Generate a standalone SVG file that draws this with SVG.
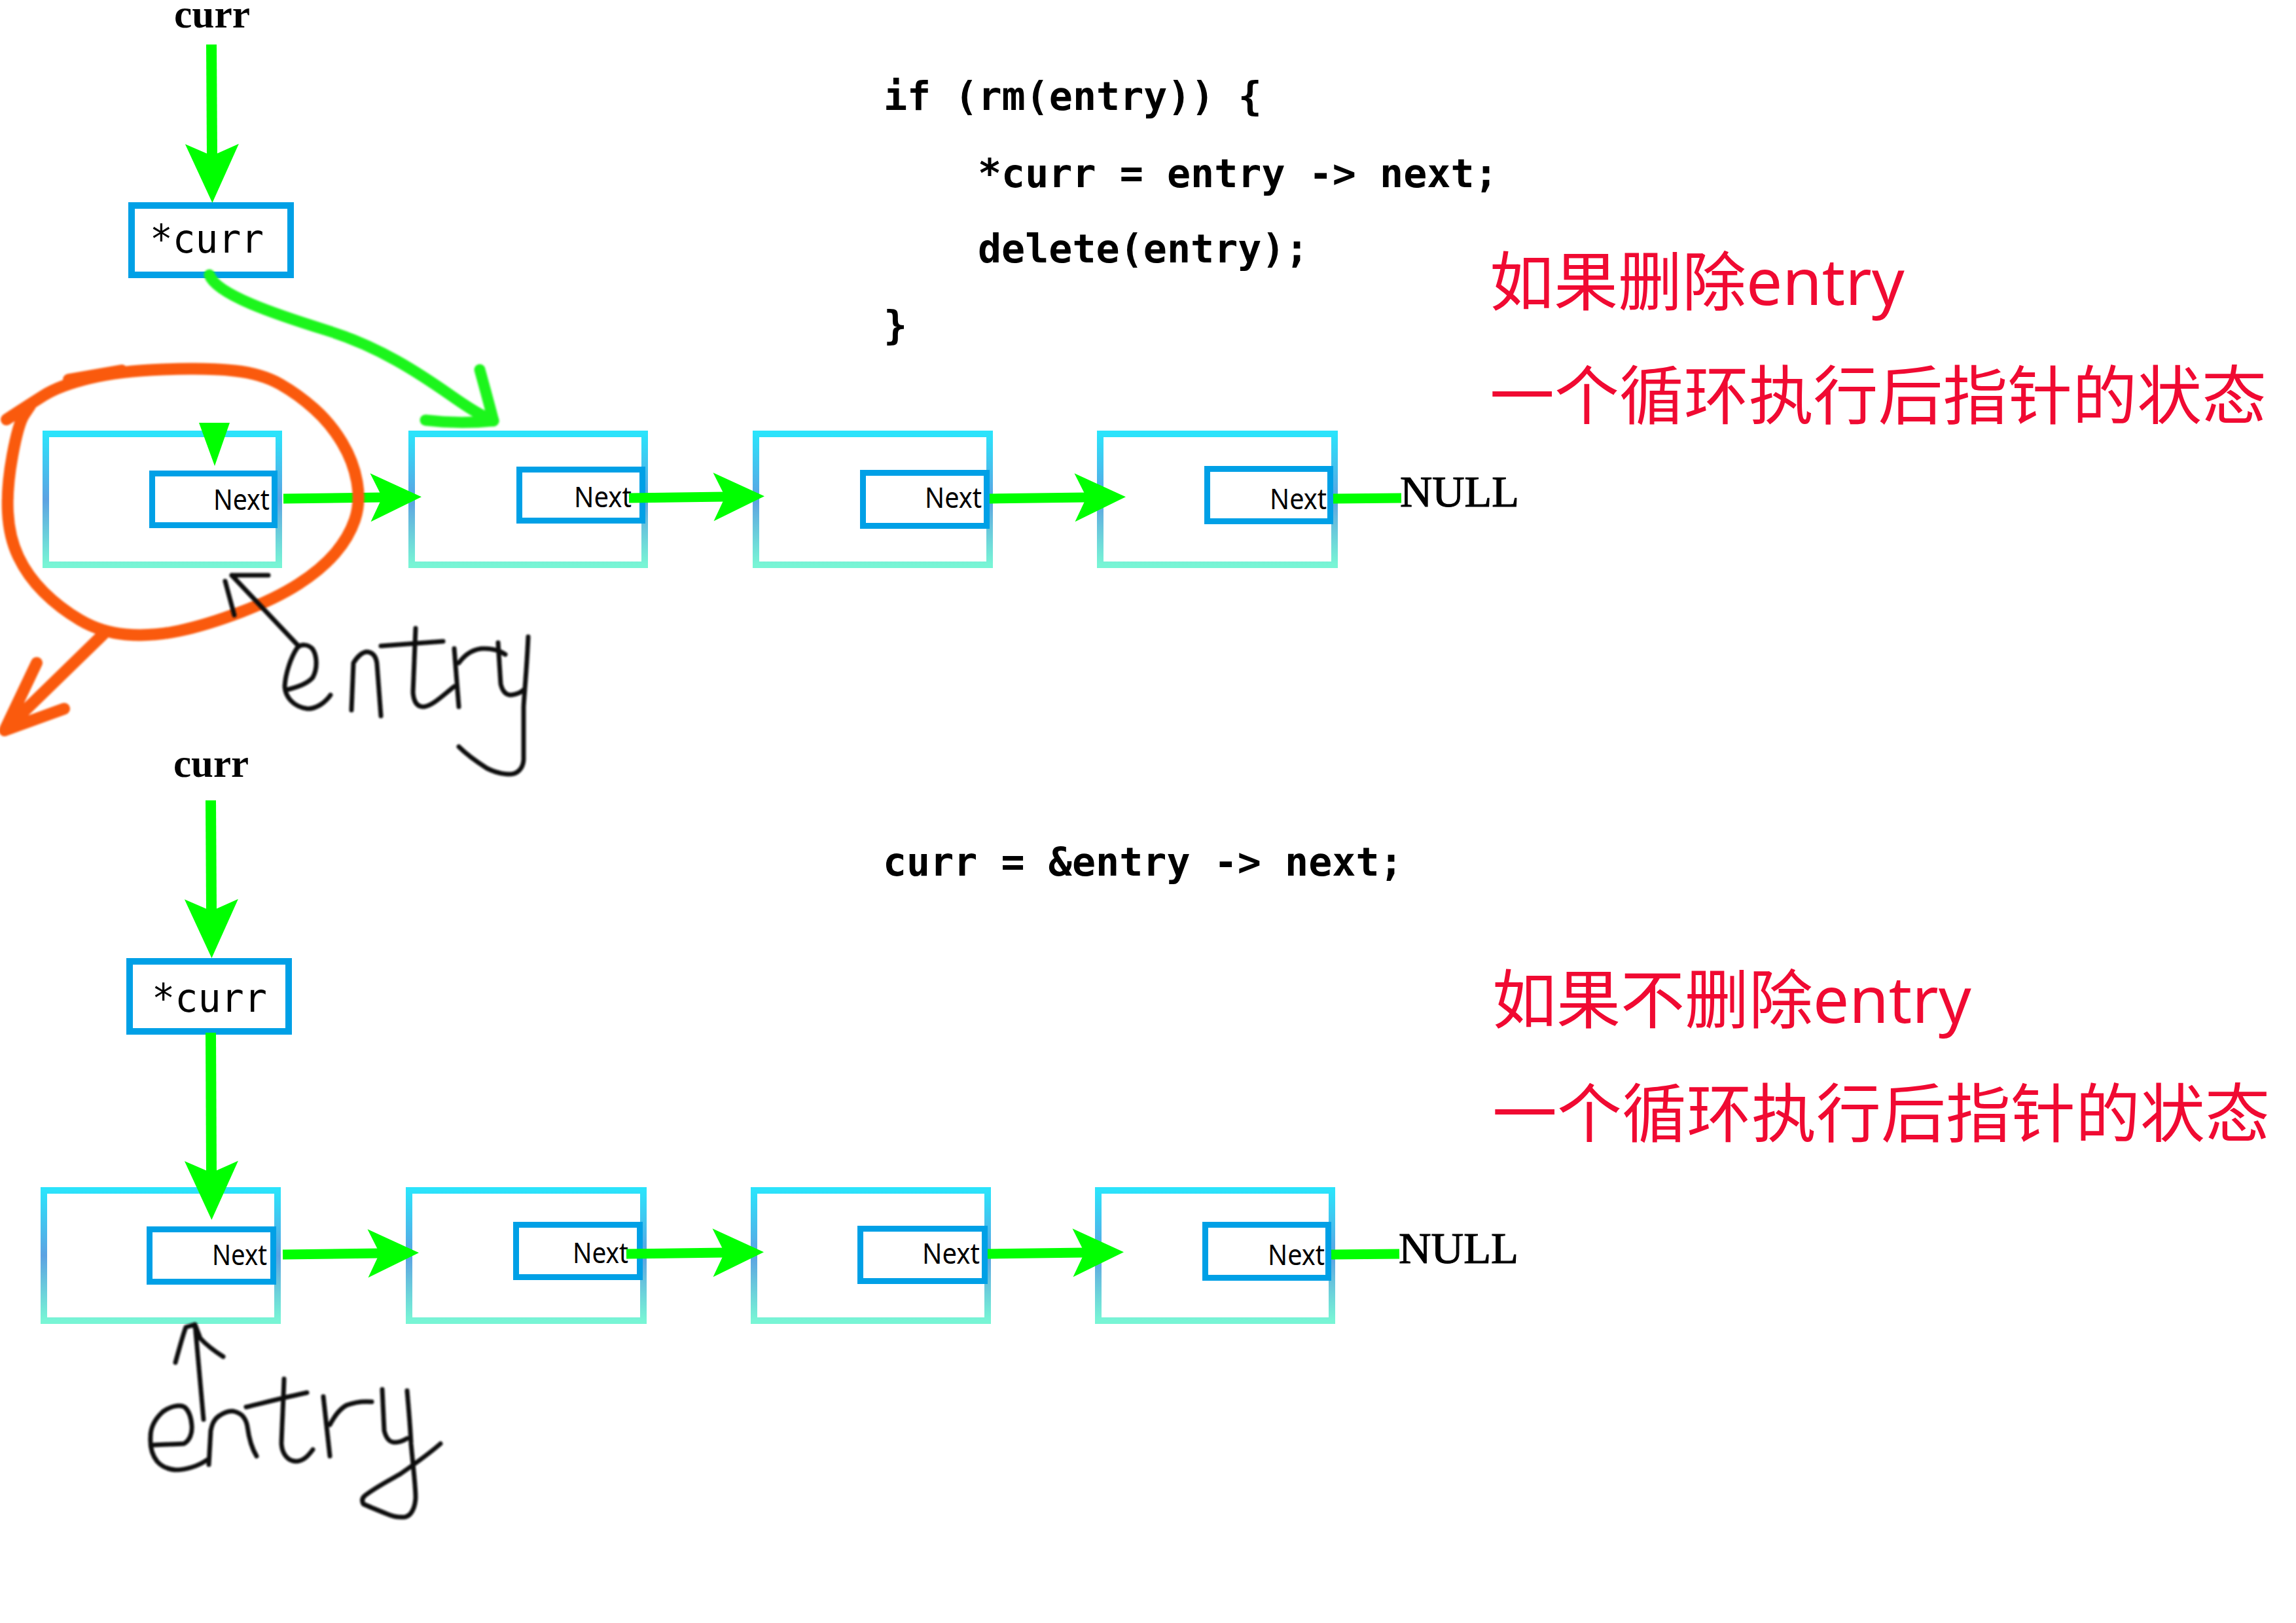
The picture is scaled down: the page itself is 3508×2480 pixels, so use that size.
<svg xmlns="http://www.w3.org/2000/svg" width="3508" height="2480" viewBox="0 0 3508 2480">
<style>
.bg{fill:#ffffff}
.node{fill:#ffffff;stroke:url(#nodeGrad);stroke-width:10}
.ptr{fill:#ffffff;stroke:#00A0E6;stroke-width:9}
.next{font-family:"Noto Sans","Open Sans",sans-serif;font-size:44px;fill:#000}
.code{font-family:"DejaVu Sans Mono","Liberation Mono",monospace;font-size:60px;font-weight:bold;fill:#000;white-space:pre}
.ptrtxt{font-family:"DejaVu Sans Mono","Liberation Mono",monospace;font-size:60px;fill:#000}
.lbl{font-family:"Liberation Serif","Times New Roman",serif;font-size:62px;font-weight:bold;fill:#000}
.null{font-family:"Liberation Serif","Times New Roman",serif;font-size:68px;fill:#000;stroke:#000;stroke-width:1.2}
.red{font-family:"Noto Sans","Noto Sans CJK SC",sans-serif;font-size:98px;fill:#F00A32}
.hlink{stroke:#00FF00;stroke-width:15;fill:none}
.vlink{stroke:#00FF00;stroke-width:16;fill:none}
.hand{stroke:#111;stroke-width:7;fill:none;stroke-linecap:round;stroke-linejoin:round}
.orange{stroke:#FA5A0F;stroke-width:18;fill:none;stroke-linecap:round;stroke-linejoin:round}
.gcurve{stroke:#1EF51E;stroke-width:17;fill:none;stroke-linecap:round;stroke-linejoin:round}
</style>
<defs>
<linearGradient id="nodeGrad" x1="0" y1="0" x2="0" y2="1">
<stop offset="0" stop-color="#2BE3FB"/>
<stop offset="0.5" stop-color="#5CA2E2"/>
<stop offset="1" stop-color="#78F5D5"/>
</linearGradient>
<marker id="ah" markerUnits="userSpaceOnUse" markerWidth="100" markerHeight="100" refX="0" refY="0" orient="auto" overflow="visible">
<path d="M60,0 L-18,-37 L0,0 L-18,37 Z" fill="#00FF00"/>
</marker>
<marker id="ahv" markerUnits="userSpaceOnUse" markerWidth="100" markerHeight="100" refX="0" refY="0" orient="auto" overflow="visible">
<path d="M72,0 L-18,-41 L0,0 L-18,41 Z" fill="#00FF00"/>
</marker>
<filter id="soft" x="-5%" y="-5%" width="110%" height="110%">
<feGaussianBlur stdDeviation="1.8"/>
</filter>
</defs>
<rect class="bg" x="0" y="0" width="3508" height="2480"/>

<!-- labels -->
<g id="label-curr-top"><text class="lbl" x="266" y="42" textLength="116" lengthAdjust="spacingAndGlyphs">curr</text></g>
<g id="label-curr-bottom"><text class="lbl" x="265" y="1187" textLength="115" lengthAdjust="spacingAndGlyphs">curr</text></g>

<!-- code -->
<g id="code-top">
<text class="code" x="1350" y="168">if (rm(entry)) {</text>
<text class="code" x="1494" y="286">*curr = entry -&gt; next;</text>
<text class="code" x="1494" y="401">delete(entry);</text>
<text class="code" x="1350" y="518">}</text>
</g>
<g id="code-bottom"><text class="code" x="1349" y="1338">curr = &amp;entry -&gt; next;</text></g>

<!-- red notes -->
<g id="note-top">
<text class="red" x="2276" y="466">如果删除entry</text>
<text class="red" x="2276" y="640" textLength="1187" lengthAdjust="spacingAndGlyphs">一个循环执行后指针的状态</text>
</g>
<g id="note-bottom">
<text class="red" x="2280" y="1563">如果不删除entry</text>
<text class="red" x="2280" y="1737" textLength="1188" lengthAdjust="spacingAndGlyphs">一个循环执行后指针的状态</text>
</g>

<!-- pointer boxes -->
<g id="ptr-top">
<rect x="201" y="314" width="243" height="106" fill="#fff" stroke="#00A0E6" stroke-width="10"/>
<text class="ptrtxt" x="229" y="386" textLength="174" lengthAdjust="spacingAndGlyphs">*curr</text>
</g>
<g id="ptr-bottom">
<rect x="198" y="1469" width="243" height="107" fill="#fff" stroke="#00A0E6" stroke-width="10"/>
<text class="ptrtxt" x="232" y="1546" textLength="176" lengthAdjust="spacingAndGlyphs">*curr</text>
</g>

<!-- top row nodes -->
<g id="top-node1">
<rect class="node" x="70" y="663" width="356" height="200"/>
<rect class="ptr" x="232.5" y="723.5" width="187" height="79"/>
<text class="next" x="326" y="779" textLength="86" lengthAdjust="spacingAndGlyphs">Next</text>
</g>
<g id="top-node2">
<rect class="node" x="629" y="663" width="356" height="200"/>
<rect class="ptr" x="793.5" y="717.5" width="188" height="78"/>
<text class="next" x="877" y="775" textLength="88" lengthAdjust="spacingAndGlyphs">Next</text>
</g>
<g id="top-node3">
<rect class="node" x="1155" y="663" width="357" height="200"/>
<rect class="ptr" x="1318.5" y="722.5" width="189" height="81"/>
<text class="next" x="1413" y="776" textLength="87" lengthAdjust="spacingAndGlyphs">Next</text>
</g>
<g id="top-node4">
<rect class="node" x="1681" y="663" width="358" height="200"/>
<rect class="ptr" x="1844.5" y="716.5" width="188" height="80"/>
<text class="next" x="1940" y="778" textLength="87" lengthAdjust="spacingAndGlyphs">Next</text>
</g>
<g id="top-null"><text class="null" x="2139" y="774" textLength="182" lengthAdjust="spacingAndGlyphs">NULL</text></g>

<!-- bottom row nodes -->
<g id="bottom-node1">
<rect class="node" x="67" y="1819" width="357" height="199"/>
<rect class="ptr" x="228.5" y="1878.5" width="189" height="80"/>
<text class="next" x="324" y="1933" textLength="84" lengthAdjust="spacingAndGlyphs">Next</text>
</g>
<g id="bottom-node2">
<rect class="node" x="625" y="1819" width="358" height="199"/>
<rect class="ptr" x="788.5" y="1871.5" width="189" height="80"/>
<text class="next" x="875" y="1930" textLength="85" lengthAdjust="spacingAndGlyphs">Next</text>
</g>
<g id="bottom-node3">
<rect class="node" x="1152" y="1819" width="357" height="199"/>
<rect class="ptr" x="1314.5" y="1877.5" width="190" height="80"/>
<text class="next" x="1409" y="1931" textLength="88" lengthAdjust="spacingAndGlyphs">Next</text>
</g>
<g id="bottom-node4">
<rect class="node" x="1678" y="1819" width="357" height="199"/>
<rect class="ptr" x="1841.5" y="1871.5" width="188" height="81"/>
<text class="next" x="1937" y="1933" textLength="87" lengthAdjust="spacingAndGlyphs">Next</text>
</g>
<g id="bottom-null"><text class="null" x="2137" y="1930" textLength="183" lengthAdjust="spacingAndGlyphs">NULL</text></g>

<!-- connectors -->
<g id="connectors">
<line class="vlink" x1="323" y1="68" x2="324" y2="238" marker-end="url(#ahv)"/>
<line class="hlink" x1="433" y1="762" x2="584" y2="760" marker-end="url(#ah)"/>
<line class="hlink" x1="961" y1="761" x2="1108" y2="759" marker-end="url(#ah)"/>
<line class="hlink" x1="1512" y1="762" x2="1660" y2="760" marker-end="url(#ah)"/>
<line class="hlink" x1="2037" y1="762" x2="2141" y2="761"/>
<polygon points="304,646 351,646 328,712" fill="#00FF00"/>

<line class="vlink" x1="322" y1="1223" x2="323" y2="1392" marker-end="url(#ahv)"/>
<line class="vlink" x1="322" y1="1578" x2="323" y2="1792" marker-end="url(#ahv)"/>
<line class="hlink" x1="432" y1="1917" x2="580" y2="1915" marker-end="url(#ah)"/>
<line class="hlink" x1="957" y1="1916" x2="1107" y2="1914" marker-end="url(#ah)"/>
<line class="hlink" x1="1509" y1="1916" x2="1657" y2="1914" marker-end="url(#ah)"/>
<line class="hlink" x1="2034" y1="1917" x2="2138" y2="1916"/>

<g filter="url(#soft)">
<path class="gcurve" d="M320,420 C330,450 420,480 500,505 C580,530 640,570 690,605 S740,635 754,643"/>
<path class="gcurve" d="M733,565 C740,590 748,620 754,643 M650,642 C690,647 725,646 754,643"/>
</g>
</g>

<!-- hand-drawn annotations -->
<g id="annotation-circle" filter="url(#soft)">
<path class="orange" d="M10,641 L26,630.5 Q42,620 66.5,604.5 Q91,589 136.5,578 Q182,567 249,564.5 Q316,562 358,566.5 Q400,571 428,587 Q456,603 480.5,625 Q505,647 522.5,676 Q540,705 545.5,736.5 Q551,768 542,794.5 Q533,821 512,845.5 Q491,870 456,892.5 Q421,915 368.5,935 Q316,955 273.5,964 Q231,973 192.5,969.5 Q154,966 122.5,947.5 Q91,929 66.5,904.5 Q42,880 28,850.5 Q14,821 12,783 Q10,745 19,696 Q28,647 37,633.5 L46,620"/>
<path class="orange" d="M105,580 L186,566"/>
<path class="orange" d="M158,969 L7,1116 M56,1013 L7,1116 M98,1083 L7,1116"/>
</g>

<g id="annotation-entry-top" filter="url(#soft)">
<path class="hand" d="M456,987 L354,879 M344,888 L358,940 M354,879 L410,879"/>
<path class="hand" d="M438,1054 C455,1050 470,1045 478,1035 C486,1020 484,1000 477,991 C470,984 460,984 454,990 C444,1005 436,1030 435,1049 C436,1065 448,1080 470,1083 C485,1083 498,1072 505,1062"/>
<path class="hand" d="M537,1085 L540,1013 C546,1003 554,996 561,996 C570,997 575,1004 576,1015 L582,1094"/>
<path class="hand" d="M635,960 L631,1058 C632,1072 637,1080 647,1080 C660,1079 675,1064 694,1049 M582,987 L677,980"/>
<path class="hand" d="M694,991 L701,1080 M701,1013 C712,998 725,991 740,991 C752,991 763,994 772,1000"/>
<path class="hand" d="M761,982 L765,1045 C768,1058 774,1062 781,1062 C790,1061 796,1058 800,1054 M807,973 C805,1020 801,1060 800,1080 L800,1161 C799,1175 790,1183 779,1183 C765,1183 752,1178 744,1174 C730,1165 712,1152 701,1141"/>
</g>

<g id="annotation-entry-bottom" filter="url(#soft)">
<path class="hand" d="M311,2169 L298,2024 M268,2082 C274,2060 280,2038 284,2028 L297,2024 M298,2024 L306,2045 C318,2058 330,2066 341,2073"/>
<path class="hand" d="M235,2208 C255,2207 270,2207 281,2206 C290,2201 294,2190 293,2178 C292,2165 289,2156 282,2150 C275,2146 262,2148 249,2157 C238,2167 230,2180 230,2195 C229,2210 231,2222 240,2233 C247,2241 256,2245 268,2246 C283,2246 302,2241 316,2231"/>
<path class="hand" d="M319,2238 L322,2186 C324,2175 328,2168 334,2164 C343,2158 352,2155 359,2157 C370,2160 376,2168 378,2180 C380,2195 384,2212 392,2225"/>
<path class="hand" d="M434,2107 C433,2140 431,2175 430,2206 C431,2222 440,2233 453,2233 C465,2232 472,2223 478,2215 M376,2150 C405,2143 440,2134 469,2128"/>
<path class="hand" d="M494,2134 L504,2225 M504,2177 C512,2162 520,2152 530,2147 C543,2142 556,2141 568,2142"/>
<path class="hand" d="M584,2123 L587,2186 C590,2198 596,2204 603,2204 C610,2204 617,2201 622,2198 M622,2125 C624,2150 627,2180 628,2206 C631,2240 635,2270 635,2289 C634,2305 628,2316 619,2318 C610,2319 600,2317 593,2314 C578,2308 563,2302 555,2298 C552,2292 554,2288 558,2285 C575,2272 595,2262 612,2252 C635,2236 655,2222 673,2206"/>
</g>
</svg>
